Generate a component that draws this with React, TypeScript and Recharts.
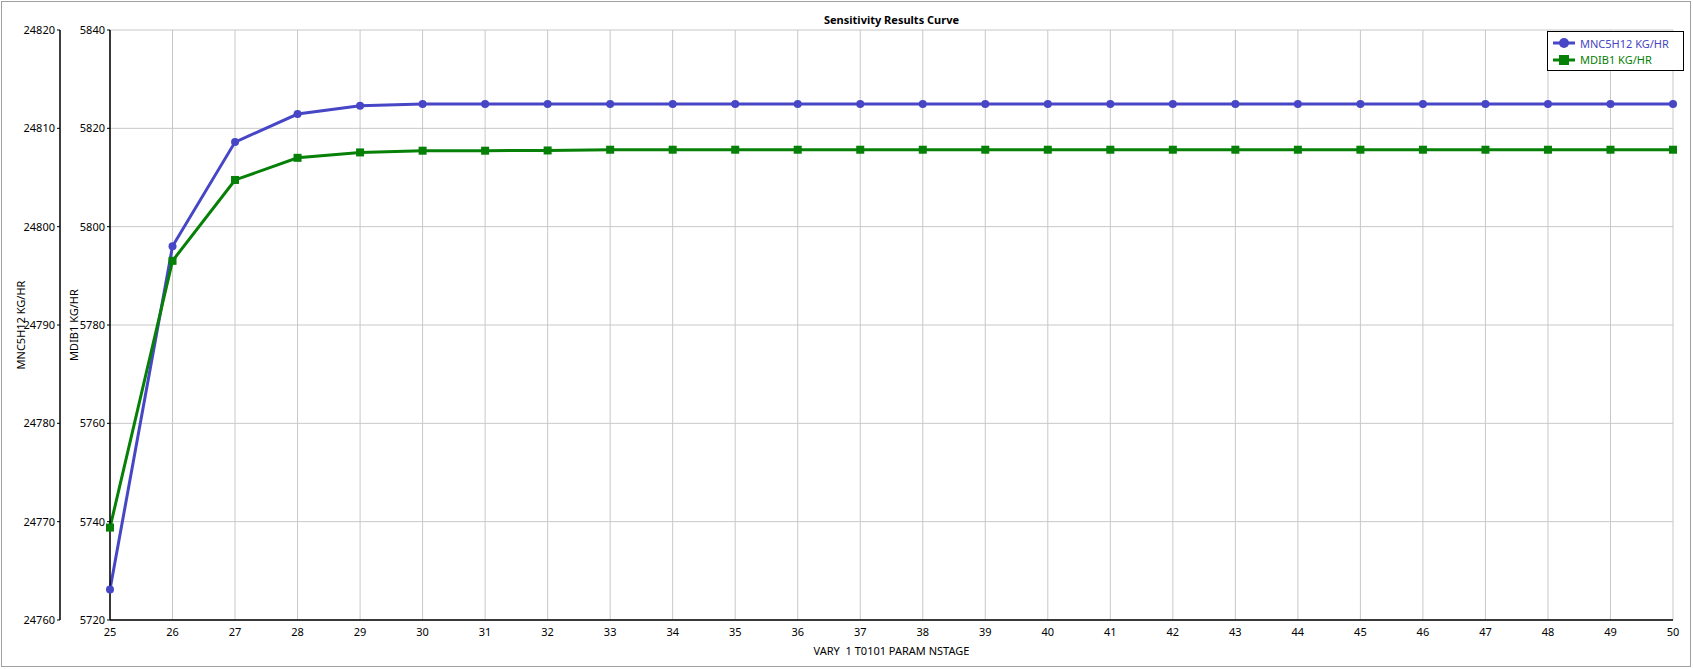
import React from 'react';
import { LineChart, Line, XAxis, YAxis, CartesianGrid, Legend } from 'recharts';

const stages = [25, 26, 27, 28, 29, 30, 31, 32, 33, 34, 35, 36, 37, 38, 39, 40, 41, 42, 43, 44, 45, 46, 47, 48, 49, 50];
const mnc5h12 = [
  24763.1, 24798.0, 24808.6, 24811.45, 24812.3,
  24812.47, 24812.47, 24812.47, 24812.47, 24812.47, 24812.47, 24812.47,
  24812.47, 24812.47, 24812.47, 24812.47, 24812.47, 24812.47, 24812.47,
  24812.47, 24812.47, 24812.47, 24812.47, 24812.47, 24812.47, 24812.47,
];
const mdib1 = [
  5738.8, 5793.05, 5809.5, 5814.0, 5815.1, 5815.45, 5815.45, 5815.5,
  5815.65, 5815.65, 5815.65, 5815.65, 5815.65, 5815.65, 5815.65, 5815.65, 5815.65,
  5815.65, 5815.65, 5815.65, 5815.65, 5815.65, 5815.65, 5815.65, 5815.65, 5815.65,
];
const mncTicks = [24760, 24770, 24780, 24790, 24800, 24810, 24820];
const mdibTicks = [5720, 5740, 5760, 5780, 5800, 5820, 5840];

const TITLE = 'Sensitivity Results Curve';
const X_LABEL = 'VARY \u00A01 T0101 PARAM NSTAGE';
const MNC_NAME = 'MNC5H12 KG/HR';
const MDIB_NAME = 'MDIB1 KG/HR';
const SERIES_ORDER = ['mnc', 'mdib'];

const data = stages.map((s, i) => ({ stage: s, mnc: mnc5h12[i], mdib: mdib1[i] }));

const BLUE = '#4646c6';
const GREEN = '#068006';
const FONT = "'Noto Sans', 'Open Sans', sans-serif";
const FS = 11;

const SquareDot = (props: any) => {
  const { cx, cy, index } = props;
  if (cx == null || cy == null) return <g key={`sq-${index}`} />;
  return <rect key={`sq-${index}`} x={cx - 4} y={cy - 4} width={8} height={8} fill={GREEN} />;
};

const renderLegend = (props: any) => {
  const payload = [...(props.payload || [])].sort(
    (a: any, b: any) => SERIES_ORDER.indexOf(a.dataKey) - SERIES_ORDER.indexOf(b.dataKey)
  );
  return (
    <div
      style={{
        border: '1px solid #000',
        background: '#fff',
        boxSizing: 'border-box',
        width: 137,
        height: 40,
        padding: '3px 0 0 5px',
        fontFamily: FONT,
        fontSize: FS,
      }}
    >
      {payload.map((entry: any, i: number) => {
        const isSquare = entry.dataKey === 'mdib';
        const c = entry.color;
        return (
          <div key={i} style={{ display: 'flex', alignItems: 'center', height: 16.5, color: c, whiteSpace: 'nowrap' }}>
            <svg width={22} height={12} style={{ display: 'block' }}>
              <line x1={0} y1={6} x2={22} y2={6} stroke={c} strokeWidth={3} />
              {isSquare ? (
                <rect x={6} y={1} width={10} height={10} fill={c} />
              ) : (
                <circle cx={11} cy={6} r={5} fill={c} />
              )}
            </svg>
            <span style={{ marginLeft: 5 }}>{entry.value}</span>
          </div>
        );
      })}
    </div>
  );
};

export default function App() {
  return (
    <div style={{ position: 'absolute', top: 0, left: 0, width: 1693, height: 669, background: '#fff' }}>
      <div
        style={{
          position: 'absolute',
          left: 1,
          top: 1,
          width: 1690,
          height: 666,
          border: '1px solid #a0a0a0',
          boxSizing: 'border-box',
        }}
      />
      <div
        style={{
          position: 'absolute',
          top: 13,
          left: 110,
          width: 1563,
          textAlign: 'center',
          fontFamily: FONT,
          fontWeight: 'bold',
          fontSize: FS,
          lineHeight: '14px',
          color: '#000',
          zIndex: 2,
        }}
      >
        {TITLE}
      </div>
      <LineChart width={1693} height={669} data={data} margin={{ top: 30, right: 20, bottom: 9, left: 0 }}>
        <CartesianGrid stroke="#c8c8c8" strokeWidth={1} yAxisId="mdib" xAxisId={0} />
        <XAxis
          dataKey="stage"
          type="number"
          domain={[25, 50]}
          ticks={stages}
          interval={0}
          height={40}
          tickLine={false}
          tickSize={5}
          tickMargin={3}
          axisLine={{ stroke: '#000', strokeWidth: 1.5 }}
          tick={{ fill: '#000', fontSize: FS, fontFamily: FONT }}
          label={{ value: X_LABEL, position: 'insideBottom', offset: 5, fill: '#000', fontSize: FS, fontFamily: FONT }}
        />
        <YAxis
          yAxisId="mdib"
          orientation="left"
          domain={[5720, 5840]}
          ticks={mdibTicks}
          interval={0}
          width={50}
          tickSize={3}
          tickMargin={2}
          allowDataOverflow
          axisLine={{ stroke: '#000', strokeWidth: 1.5 }}
          tickLine={{ stroke: '#000' }}
          tick={{ fill: '#000', fontSize: FS, fontFamily: FONT }}
          label={{ value: MDIB_NAME, angle: -90, position: 'insideLeft', offset: 14, fill: '#000', fontSize: FS, fontFamily: FONT, style: { textAnchor: 'middle' } }}
        />
        <YAxis
          yAxisId="mnc"
          orientation="left"
          domain={[24760, 24820]}
          ticks={mncTicks}
          interval={0}
          width={60}
          tickSize={3}
          tickMargin={2}
          allowDataOverflow
          axisLine={{ stroke: '#000', strokeWidth: 1.5 }}
          tickLine={{ stroke: '#000' }}
          tick={{ fill: '#000', fontSize: FS, fontFamily: FONT }}
          label={{ value: MNC_NAME, angle: -90, position: 'insideLeft', offset: 21, fill: '#000', fontSize: FS, fontFamily: FONT, style: { textAnchor: 'middle' } }}
        />
        <Legend
          layout="vertical"
          align="center"
          verticalAlign="middle"
          content={renderLegend}
          wrapperStyle={{ top: 31, left: 1547, width: 137, height: 40 }}
        />
        <Line
          yAxisId="mnc"
          dataKey="mnc"
          name={MNC_NAME}
          stroke={BLUE}
          strokeWidth={3}
          dot={{ r: 4, fill: BLUE, stroke: BLUE, strokeWidth: 0 }}
          activeDot={false}
          isAnimationActive={false}
        />
        <Line
          yAxisId="mdib"
          dataKey="mdib"
          name={MDIB_NAME}
          stroke={GREEN}
          strokeWidth={3}
          dot={SquareDot}
          activeDot={false}
          isAnimationActive={false}
        />
      </LineChart>
    </div>
  );
}
